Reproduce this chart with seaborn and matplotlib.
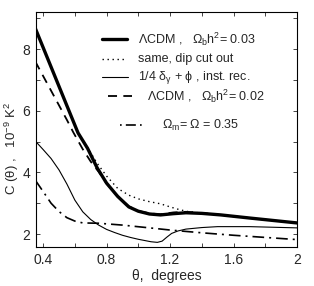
import numpy as np
import pandas as pd
import matplotlib
matplotlib.use("Agg")
import matplotlib.pyplot as plt
from matplotlib.ticker import MultipleLocator
import seaborn as sns

# ── Data ──────────────────────────────────────────────────────────────────────
theta_lcdm03 = [0.35, 0.45, 0.55, 0.62, 0.68, 0.74, 0.80, 0.87, 0.94, 1.00,
                1.07, 1.14, 1.22, 1.30, 1.40, 1.52, 1.70, 1.85, 2.00]
c_lcdm03 = [8.68, 7.42, 6.16, 5.28, 4.78, 4.15, 3.65, 3.22, 2.88, 2.74,
            2.65, 2.62, 2.66, 2.69, 2.67, 2.62, 2.52, 2.44, 2.36]

theta_nodip = [0.35, 0.45, 0.55, 0.62, 0.68, 0.74, 0.80, 0.87, 0.94, 1.00,
               1.07, 1.14, 1.20, 1.26, 1.32, 1.40, 1.52, 1.70, 1.85, 2.00]
c_nodip = [8.68, 7.42, 6.16, 5.28, 4.80, 4.30, 3.88, 3.48, 3.26, 3.14,
           3.05, 2.98, 2.88, 2.79, 2.72, 2.68, 2.62, 2.52, 2.44, 2.36]

theta_sw = [0.35, 0.40, 0.45, 0.50, 0.55, 0.60, 0.65, 0.70, 0.75, 0.80,
            0.85, 0.90, 0.95, 1.00, 1.08, 1.12, 1.15, 1.18, 1.21, 1.25,
            1.30, 1.40, 1.50, 1.70, 1.85, 2.00]
c_sw = [5.02, 4.74, 4.45, 4.08, 3.62, 3.10, 2.72, 2.47, 2.29, 2.15,
        2.05, 1.96, 1.89, 1.83, 1.75, 1.73, 1.77, 1.90, 2.02, 2.10,
        2.16, 2.21, 2.24, 2.24, 2.22, 2.20]

theta_lcdm02 = [0.35, 0.45, 0.55, 0.59, 0.65, 0.70, 0.75, 0.80, 0.87, 0.94,
                1.00, 1.07, 1.14, 1.22, 1.30, 1.40, 1.52, 1.70, 1.85, 2.00]
c_lcdm02 = [7.60, 6.65, 5.70, 5.30, 4.75, 4.35, 4.02, 3.64, 3.22, 2.90,
            2.75, 2.67, 2.64, 2.70, 2.72, 2.68, 2.62, 2.52, 2.44, 2.36]

theta_open = [0.35, 0.40, 0.45, 0.50, 0.55, 0.60, 0.65, 0.75, 0.90, 1.07,
              1.20, 1.40, 1.60, 1.80, 2.00]
c_open = [3.75, 3.38, 3.00, 2.73, 2.53, 2.42, 2.36, 2.35, 2.29, 2.20,
          2.13, 2.04, 1.96, 1.89, 1.82]

labels = [
    r"ΛCDM ,   Ω$_{\rm b}$h$^{2}$= 0.03",
    "same, dip cut out",
    r"1/4 δ$_{γ}$ + ϕ , inst. rec.",
    r"ΛCDM ,   Ω$_{\rm b}$h$^{2}$= 0.02",
    r"Ω$_{\rm m}$= Ω = 0.35",
]

# ── Style ─────────────────────────────────────────────────────────────────────
sns.set_style("ticks")
plt.rcParams["font.family"] = ["Liberation Sans", "DejaVu Sans"]
plt.rcParams["mathtext.fontset"] = "custom"
plt.rcParams["mathtext.rm"] = "Liberation Sans"
plt.rcParams["mathtext.it"] = "Liberation Sans"
plt.rcParams["mathtext.bf"] = "Liberation Sans"

fig = plt.figure(figsize=(3.14, 2.86), dpi=100)
ax = fig.add_axes([0.1146, 0.1364, 0.8312, 0.8216])

styles = [
    dict(color="black", lw=2.4, ls="-"),
    dict(color="black", lw=1.0, ls=(0, (1, 2.6))),
    dict(color="black", lw=0.8, ls="-"),
    dict(color="black", lw=1.3, ls=(0, (5, 3.5))),
    dict(color="black", lw=1.2, ls=(0, (7, 3, 1.2, 3))),
]
series = [
    (theta_lcdm02, c_lcdm02, 3),
    (theta_nodip, c_nodip, 1),
    (theta_lcdm03, c_lcdm03, 0),
    (theta_sw, c_sw, 2),
    (theta_open, c_open, 4),
]
for xs, ys, k in series:
    df = pd.DataFrame({"theta": xs, "C": ys})
    sns.lineplot(data=df, x="theta", y="C", ax=ax, sort=False, legend=False,
                 **styles[k])

# Hand-placed legend rows (as in the original figure)
rows = [
    (0.253, 0.349, 0.885, 0.391),
    (0.253, 0.343, 0.800, 0.391),
    (0.253, 0.353, 0.723, 0.391),
    (0.276, 0.368, 0.643, 0.425),
    (0.322, 0.406, 0.519, 0.483),
]
handle_styles = list(styles)
handle_styles[4] = dict(color="black", lw=1.2, ls=(0, (1, 2.5, 6, 2.5, 1, 2)))
for k, (x0, x1, yy, xt) in enumerate(rows):
    ax.plot([x0, x1], [yy, yy], transform=ax.transAxes, **handle_styles[k])
    ax.text(xt, yy, labels[k], transform=ax.transAxes, fontsize=9,
            va="center", ha="left")

ax.set_xlim(0.355, 2.0)
ax.set_ylim(1.58, 9.2)
ax.xaxis.set_major_locator(MultipleLocator(0.4))
ax.xaxis.set_minor_locator(MultipleLocator(0.2))
ax.yaxis.set_major_locator(MultipleLocator(2))
ax.yaxis.set_minor_locator(MultipleLocator(1))
ax.set_xticks([0.4, 0.8, 1.2, 1.6, 2.0])
ax.set_xticklabels(["0.4", "0.8", "1.2", "1.6", "2"])
ax.tick_params(which="both", direction="in", top=True, right=True,
               length=3, width=0.6, labelsize=10, pad=4)

for s in ax.spines.values():
    s.set_visible(True)
    s.set_linewidth(0.8)
    s.set_color("black")

ax.set_xlabel("θ,  degrees", fontsize=10, labelpad=2)
ax.set_ylabel(r"C (θ) ,   10$^{-9}$ K$^{2}$", fontsize=9.5)
ax.yaxis.set_label_coords(-0.058, 0.42)

fig.savefig("out.png", dpi=100)
